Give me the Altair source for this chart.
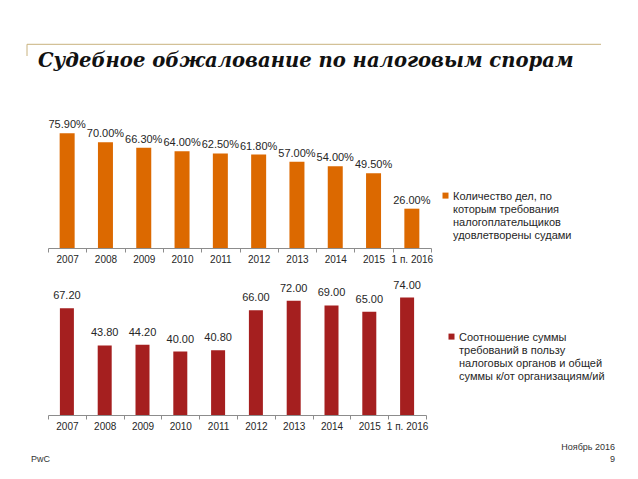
import altair as alt
import pandas as pd

categories = ["2007", "2008", "2009", "2010", "2011", "2012", "2013", "2014", "2015", "1 п. 2016"]
share_values = [75.90, 70.00, 66.30, 64.00, 62.50, 61.80, 57.00, 54.00, 49.50, 26.00]
ratio_values = [67.20, 43.80, 44.20, 40.00, 40.80, 66.00, 72.00, 69.00, 65.00, 74.00]
share_label = "Количество дел, по|которым требования|налогоплательщиков|удовлетворены судами"
ratio_label = "Соотношение суммы|требований в пользу|налоговых органов и общей|суммы к/от организациям/ий"
title_text = ["Судебное обжалование по налоговым спорам"]
footer_left = ["PwC"]
footer_date = ["Ноябрь 2016"]
footer_page = ["9"]

ORANGE = "#DC6900"
RED = "#A51F1F"
TXT = "#262626"
SANS = "Liberation Sans"

top_df = pd.DataFrame({"cat": categories, "val": share_values, "series": share_label})
bot_df = pd.DataFrame({"cat": categories, "val": ratio_values, "series": ratio_label})

# symbol shifted up so it sits next to the first label line
sym_path = "M-1,-2.3H1V-0.3H-1Z"


def xaxis():
    return alt.Axis(
        title=None, labelAngle=0, labelFont=SANS, labelFontSize=10, labelColor=TXT,
        domainColor="#8c8c8c", tickColor="#8c8c8c", tickSize=4, tickBand="extent",
        labelPadding=2, labelOverlap=False, grid=False,
    )


def panel(df, label, color, size, fmt, dy, lx, ly):
    base = alt.Chart(df).encode(
        x=alt.X("cat:N", sort=categories, scale=alt.Scale(paddingInner=0, paddingOuter=0), axis=xaxis()),
        y=alt.Y("val:Q", scale=alt.Scale(domain=[0, 80]), axis=None),
    )
    bars = base.mark_bar(size=size).encode(
        color=alt.Color(
            "series:N",
            scale=alt.Scale(domain=[label], range=[color]),
            legend=alt.Legend(
                title=None, orient="none", legendX=lx, legendY=ly, padding=0,
                labelExpr="split(datum.label, '|')", labelFont=SANS, labelFontSize=11,
                labelColor=TXT, labelBaseline="alphabetic", labelLimit=400, labelOffset=2,
                symbolType=sym_path, symbolSize=36, symbolStrokeWidth=0,
            ),
        )
    )
    texts = base.transform_calculate(lab=fmt).mark_text(
        baseline="alphabetic", dy=dy, font=SANS, fontSize=11, color=TXT
    ).encode(text="lab:N")
    return bars, texts


top_bars, top_text = panel(top_df, share_label, ORANGE, 15,
                           "format(datum.val, '.2f') + '%'", -5, 392, 67)
bot_bars, bot_text = panel(bot_df, ratio_label, RED, 14,
                           "format(datum.val, '.2f')", -9, 398, 47)

one = pd.DataFrame({"k": [0]})
rule_h = alt.Chart(one).mark_rule(color="#C8B27E", strokeWidth=1).encode(
    x=alt.value(-21), x2=alt.value(553), y=alt.value(-82.7)
)
rule_v = alt.Chart(one).mark_rule(color="#C8B27E", strokeWidth=1).encode(
    x=alt.value(-21), y=alt.value(-82.7), y2=alt.value(-71)
)
title = alt.Chart(pd.DataFrame({"t": title_text})).mark_text(
    align="left", baseline="alphabetic", font="DejaVu Serif", fontSize=19.6,
    fontWeight="bold", fontStyle="italic", color="#111111",
).encode(x=alt.value(-10), y=alt.value(-59.7), text="t:N")

top = alt.layer(rule_h, rule_v, title, top_bars, top_text).properties(width=383, height=121)

f1 = alt.Chart(pd.DataFrame({"t": footer_left})).mark_text(
    align="left", baseline="middle", font=SANS, fontSize=9, color="#333333"
).encode(x=alt.value(-17), y=alt.value(171), text="t:N")
f2 = alt.Chart(pd.DataFrame({"t": footer_date})).mark_text(
    align="right", baseline="middle", font=SANS, fontSize=9, color="#333333"
).encode(x=alt.value(567), y=alt.value(159), text="t:N")
f3 = alt.Chart(pd.DataFrame({"t": footer_page})).mark_text(
    align="right", baseline="middle", font=SANS, fontSize=9, color="#333333"
).encode(x=alt.value(567), y=alt.value(171), text="t:N")

bottom = alt.layer(bot_bars, bot_text, f1, f2, f3).properties(width=378, height=127)

chart = alt.vconcat(top, bottom, spacing=40, bounds="flush").resolve_scale(
    color="independent", x="independent", y="independent"
).properties(
    padding={"left": 18, "top": 35, "right": 5, "bottom": 5},
    background="white",
).configure_view(stroke=None)

chart.save("out.html", embed_options={"renderer": "svg", "actions": False})
